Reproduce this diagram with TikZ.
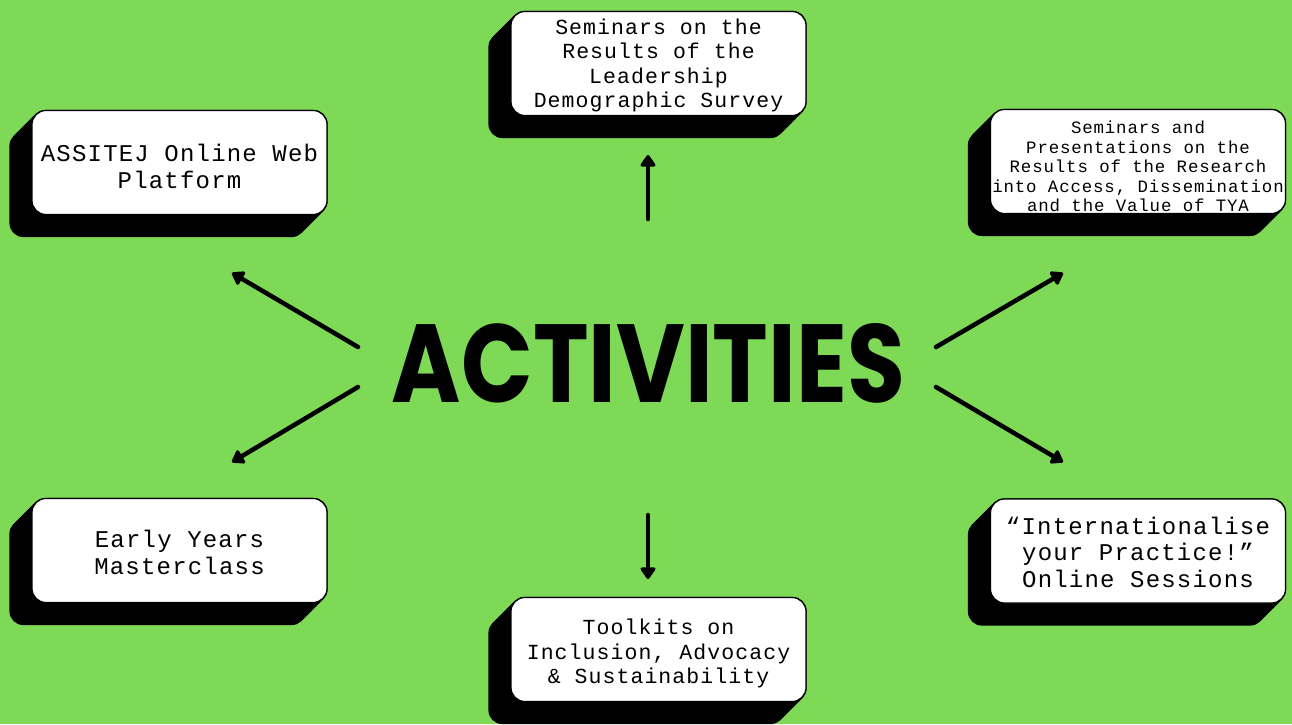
\documentclass[tikz,border=0pt]{standalone}
\usepackage{fontspec}
\usepackage{graphicx}
\usetikzlibrary{arrows.meta}
\newfontfamily\boxfont[LetterSpace=5]{Liberation Mono}
\newfontfamily\actfont{Poppins}
\definecolor{bggreen}{HTML}{7ED957}
\pgfdeclarelayer{bg}
\pgfsetlayers{bg,main}
\newcommand\cardshadow[1]{%
  \foreach \k in {0,1,...,22}{%
    \fill[black, rounded corners=14pt] ([shift={(-\k,\k)}]#1.north west) rectangle ([shift={(-\k,\k)}]#1.south east);}}
\begin{document}
\begin{tikzpicture}[x=1pt,y=-1pt,
  card/.style={draw=black, line width=1.2pt, fill=white, rounded corners=14pt,
    minimum width=295pt, minimum height=104pt, inner sep=0pt},
  cardtext/.style={align=center, inner sep=0pt},
  bigtxt/.style={cardtext, font={\boxfont\fontsize{24}{26.5}\selectfont}},
  midtxt/.style={cardtext, font={\boxfont\fontsize{21.5}{24.5}\selectfont}},
  smalltxt/.style={cardtext, font={\boxfont\fontsize{17.4}{19.5}\selectfont}},
  arr/.style={line width=4.5pt, line cap=round, line join=round,
    -{Triangle[length=13pt,width=17pt,round]}},
]
\useasboundingbox (0,0) rectangle (1292,724);
\begin{pgfonlayer}{bg}
\fill[bggreen] (0,0) rectangle (1292,724);
\end{pgfonlayer}

\node[card] (assitej) at (179.5,162.5) {};
\node[card] (survey) at (658.5,63.5) {};
\node[card] (research) at (1138,161.5) {};
\node[card] (early) at (179.5,550.5) {};
\node[card] (intl) at (1138,551) {};
\node[card] (toolkits) at (658.5,649.5) {};

\node[bigtxt] (assitejT) at ([shift={(0,4)}]assitej.center) {ASSITEJ Online Web\\Platform};
\node[midtxt] (surveyT) at ([shift={(0,2)}]survey.center) {Seminars on the\\Results of the\\Leadership\\Demographic Survey};
\node[smalltxt] (researchT) at ([shift={(0,5)}]research.center) {Seminars and\\Presentations on the\\Results of the Research\\into Access, Dissemination\\and the Value of TYA};
\node[bigtxt] (earlyT) at ([shift={(0,2)}]early.center) {Early Years\\Masterclass};
\node[bigtxt] (intlT) at ([shift={(0,1)}]intl.center) {“Internationalise\\your Practice!”\\Online Sessions};
\node[midtxt] (toolkitsT) at ([shift={(0,4)}]toolkits.center) {Toolkits on\\Inclusion, Advocacy\\\& Sustainability};

\begin{pgfonlayer}{bg}
\cardshadow{assitej}
\cardshadow{survey}
\cardshadow{research}
\cardshadow{early}
\cardshadow{intl}
\cardshadow{toolkits}
\end{pgfonlayer}

\node[inner sep=0pt] (act) at (648.5,363) {\resizebox{513pt}{79pt}{\actfont\bfseries ACTIVITIES}};

\coordinate (ulS) at (358,347);
\coordinate (ulE) at (232,273);
\coordinate (llS) at (358,387);
\coordinate (llE) at (232,462);
\coordinate (urS) at (936,347);
\coordinate (urE) at (1063,273);
\coordinate (lrS) at (936,387);
\coordinate (lrE) at (1063,462);
\coordinate (upS) at (648,219);
\coordinate (upE) at (648,155);
\coordinate (dnS) at (648,515);
\coordinate (dnE) at (648,579);

\draw[arr] (ulS) -- (ulE);
\draw[arr] (llS) -- (llE);
\draw[arr] (urS) -- (urE);
\draw[arr] (lrS) -- (lrE);
\draw[arr] (upS) -- (upE);
\draw[arr] (dnS) -- (dnE);
\end{tikzpicture}
\end{document}
